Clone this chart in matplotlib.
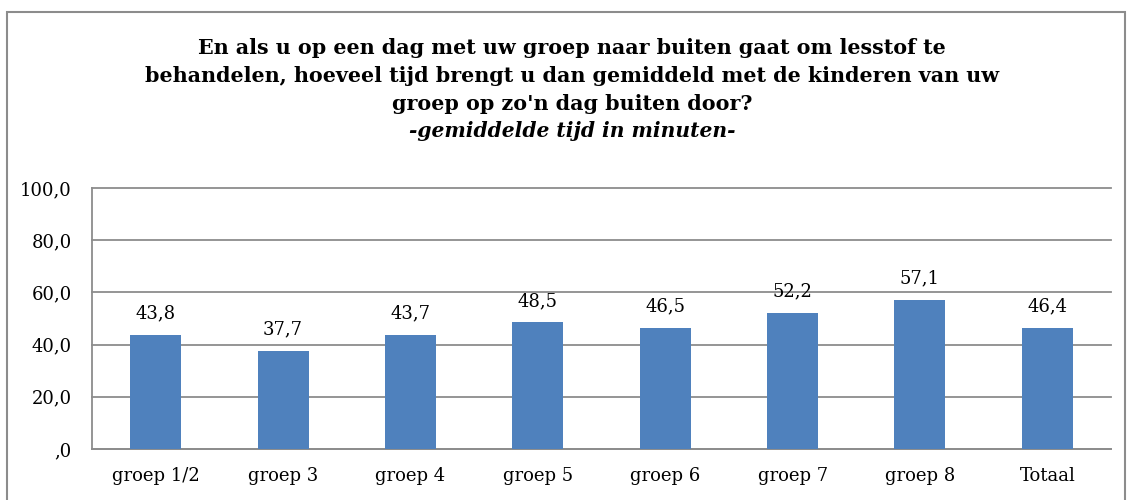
import matplotlib
matplotlib.use("Agg")
import matplotlib.pyplot as plt
from matplotlib.patches import Rectangle

categories = ["groep 1/2", "groep 3", "groep 4", "groep 5", "groep 6", "groep 7", "groep 8", "Totaal"]
values = [43.8, 37.7, 43.7, 48.5, 46.5, 52.2, 57.1, 46.4]
yticks = [0, 20, 40, 60, 80, 100]
ytick_labels = [",0", "20,0", "40,0", "60,0", "80,0", "100,0"]

W, H = 1129, 500
fig = plt.figure(figsize=(W / 100, H / 100), dpi=100)
serif = ["DejaVu Serif"]

# outer frame
fig.patches.append(Rectangle((7 / W, -0.1), (1125 - 7) / W, (H - 12) / H + 0.1,
                             transform=fig.transFigure, fill=False,
                             edgecolor="#8c8c8c", linewidth=1.5))

ax = fig.add_axes([92 / W, (H - 449) / H, (1111 - 92) / W, (449 - 188) / H])
x = list(range(len(categories)))
ax.bar(x, values, width=0.4, color="#4F81BD", zorder=3)
ax.set_xlim(-0.5, len(categories) - 0.5)
ax.set_ylim(0, 100)
ax.set_yticks(yticks)
ax.set_yticklabels(ytick_labels, fontsize=13, family=serif)
ax.set_xticks(x)
ax.set_xticklabels(categories, fontsize=13, family=serif)
ax.tick_params(axis="both", length=0)
ax.tick_params(axis="y", pad=14.5)
ax.tick_params(axis="x", pad=13)
ax.grid(axis="y", color="#8c8c8c", linewidth=1.3, zorder=0)
for gl in ax.get_ygridlines():
    gl.set_clip_on(False)
for s in ["top", "right"]:
    ax.spines[s].set_visible(False)
for s in ["left", "bottom"]:
    ax.spines[s].set_color("#8c8c8c")
    ax.spines[s].set_linewidth(1.3)

for xi, v in zip(x, values):
    ax.annotate(f"{v:.1f}".replace(".", ","), (xi, v), xytext=(0, 9),
                textcoords="offset points", ha="center", va="bottom",
                fontsize=13, family=serif)

title_lines = ["En als u op een dag met uw groep naar buiten gaat om lesstof te",
               "behandelen, hoeveel tijd brengt u dan gemiddeld met de kinderen van uw",
               "groep op zo'n dag buiten door?"]
ys = [48, 76, 104]
for t, yy in zip(title_lines, ys):
    fig.text(572 / W, 1 - yy / H, t, ha="center", va="center", fontsize=14.9,
             fontweight="bold", family=serif)
fig.text(572 / W, 1 - 131 / H, "-gemiddelde tijd in minuten-", ha="center", va="center",
         fontsize=14.6, fontweight="bold", style="italic", family=serif)

fig.savefig("out.png", dpi=100, facecolor="white")
